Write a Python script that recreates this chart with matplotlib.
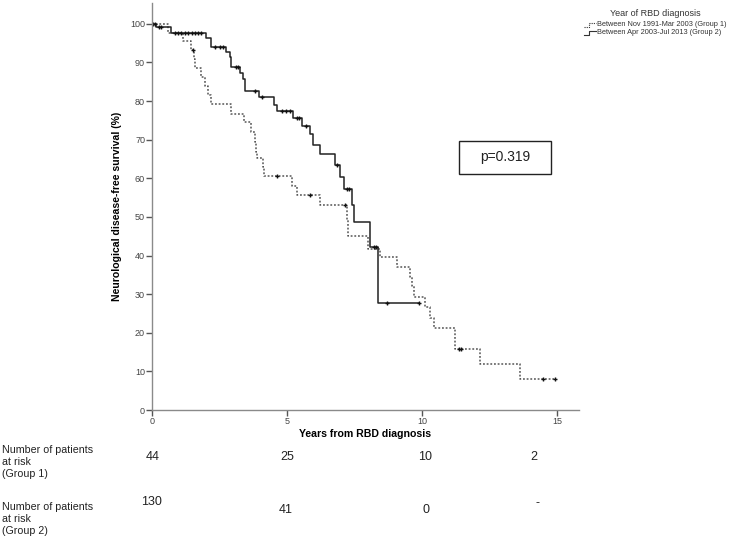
import numpy as np
import matplotlib
matplotlib.use("Agg")
import matplotlib.pyplot as plt
from matplotlib.lines import Line2D
from matplotlib.patches import Rectangle

plt.rcParams['font.family'] = ['Liberation Sans', 'DejaVu Sans']

# Group 1 (Nov 1991-Mar 2003), dotted curve: step times and survival (%)
g1_times = [0, 0.6, 1.15, 1.46, 1.55, 1.6, 1.82, 1.95, 2.07, 2.2, 2.91, 3.41, 3.65, 3.8, 3.85,
            3.9, 4.12, 4.15, 5.17, 5.35, 6.22, 7.21, 7.27, 8.01, 8.44, 9.06, 9.56, 9.62, 9.7,
            10.1, 10.3, 10.42, 11.22, 12.12, 13.6]
g1_surv = [100, 97.7, 95.5, 93.2, 90.9, 88.6, 86.2, 83.9, 81.6, 79.2, 76.7, 74.5, 72.0, 69.4, 66.9,
           65.2, 62.9, 60.6, 58.1, 55.7, 53.1, 49.1, 45.1, 41.8, 39.7, 37.1, 34.5, 32.0, 29.2,
           26.8, 23.7, 21.2, 15.8, 11.9, 7.9]
g1_end = 14.93
g1_censor = [1.52, 4.64, 5.83, 7.15, 11.35, 11.45, 14.47, 14.93]

# Group 2 (Apr 2003-Jul 2013), solid curve
g2_times = [0, 0.16, 0.7, 2.0, 2.2, 2.75, 2.88, 2.94, 3.25, 3.35, 3.43, 3.95, 4.52, 4.64, 5.2,
            5.55, 5.83, 5.95, 6.22, 6.78, 6.96, 7.09, 7.39, 7.48, 8.05, 8.38]
g2_surv = [100, 99.2, 97.6, 96.3, 94.1, 92.8, 91.5, 88.8, 87.2, 85.8, 82.6, 81.1, 79.0, 77.4, 75.5,
           73.6, 71.5, 68.7, 66.2, 63.5, 60.3, 57.2, 53.1, 48.7, 42.2, 27.8]
g2_end = 9.89
g2_censor = [0.05, 0.1, 0.25, 0.35, 0.84, 0.96, 1.09, 1.22, 1.35, 1.47, 1.6, 1.72, 1.83, 2.32,
             2.5, 2.63, 3.1, 3.2, 3.8, 4.06, 4.8, 4.95, 5.1, 5.35, 5.45, 5.7, 6.85, 7.2, 7.3,
             8.2, 8.3, 8.69, 9.89]

risk_g1 = ['44', '25', '10', '2']
risk_g2 = ['130', '41', '0', '-']
legend_labels = ['Between Nov 1991-Mar 2003 (Group 1)', 'Between Apr 2003-Jul 2013 (Group 2)']
p_text = 'p=0.319'

W, H = 739, 542


def px(x, y):
    return x / W, 1 - y / H


def surv_at(times, surv, t):
    i = np.searchsorted(times, t, side='right') - 1
    return surv[i]


fig = plt.figure(figsize=(W / 100, H / 100), dpi=100)
ax = fig.add_axes([152 / W, 1 - 410 / H, (579 - 152) / W, (410 - 3) / H])

for times, surv, end, cens, ls, col in [
        (g1_times, g1_surv, g1_end, g1_censor, (0, (1.2, 1.2)), '#555555'),
        (g2_times, g2_surv, g2_end, g2_censor, '-', '#222222')]:
    ax.step(times + [end], surv + [surv[-1]], where='post', color=col, lw=1.1, ls=ls)
    cy = [surv_at(times, surv, t) for t in cens]
    ax.plot(cens, cy, ls='none', marker='+', ms=3.5, mew=1.0, color='#111111')

ax.set_xlim(0, 15.8)
ax.set_ylim(0, 105.4)
ax.set_xticks([0, 5, 10, 15])
ax.set_yticks(range(0, 101, 10))
for s in ['top', 'right']:
    ax.spines[s].set_visible(False)
for s in ['left', 'bottom']:
    ax.spines[s].set_color('#8a8a8a')
    ax.spines[s].set_linewidth(1.0)
ax.tick_params(axis='both', length=4, width=1, color='#555555', labelsize=6.5,
               labelcolor='#444444', pad=1)
ax.set_xlabel('Years from RBD diagnosis', fontsize=7.6, fontweight='bold', labelpad=2)
ax.set_ylabel('Neurological disease-free survival (%)', fontsize=7.6, fontweight='bold',
              labelpad=6)

# p-value box
fig.add_artist(Rectangle(px(459, 174), 92 / W, 33 / H, transform=fig.transFigure,
                         fill=False, ec='#222222', lw=1.0))
fig.text(*px(505, 157.5), p_text, fontsize=10, ha='center', va='center', color='#222222')

# legend
fig.text(*px(655, 14), 'Year of RBD diagnosis', fontsize=6.5, ha='center', va='center',
         color='#333333')
for lab, ls, yy in zip(legend_labels, [(0, (1, 1)), '-'], [25, 33]):
    xs = [584, 589, 589, 596]
    ys = [yy + 1.5, yy + 1.5, yy - 2, yy - 2]
    pts = [px(a, b) for a, b in zip(xs, ys)]
    fig.add_artist(Line2D([p[0] for p in pts], [p[1] for p in pts], transform=fig.transFigure,
                          color='#333333', lw=0.8, ls=ls))
    fig.text(*px(597, yy), lab, fontsize=5.3, ha='left', va='center', color='#333333')

# numbers at risk
fig.text(*px(2, 462), 'Number of patients\nat risk\n(Group 1)', fontsize=7.7, ha='left',
         va='center', linespacing=1.25, color='#222222')
fig.text(*px(2, 519), 'Number of patients\nat risk\n(Group 2)', fontsize=7.7, ha='left',
         va='center', linespacing=1.25, color='#222222')
g1_pos = [(153, 457), (287, 457), (425, 457), (534, 457)]
g2_pos = [(151, 502), (286, 510), (426, 510), (537, 503)]
for lab, (x, y) in zip(risk_g1, g1_pos):
    fig.text(*px(x, y), lab, fontsize=9, ha='center', va='center', color='#222222')
for lab, (x, y) in zip(risk_g2, g2_pos):
    fig.text(*px(x, y), lab, fontsize=9, ha='center', va='center', color='#222222')

fig.savefig('out.png', dpi=100)
